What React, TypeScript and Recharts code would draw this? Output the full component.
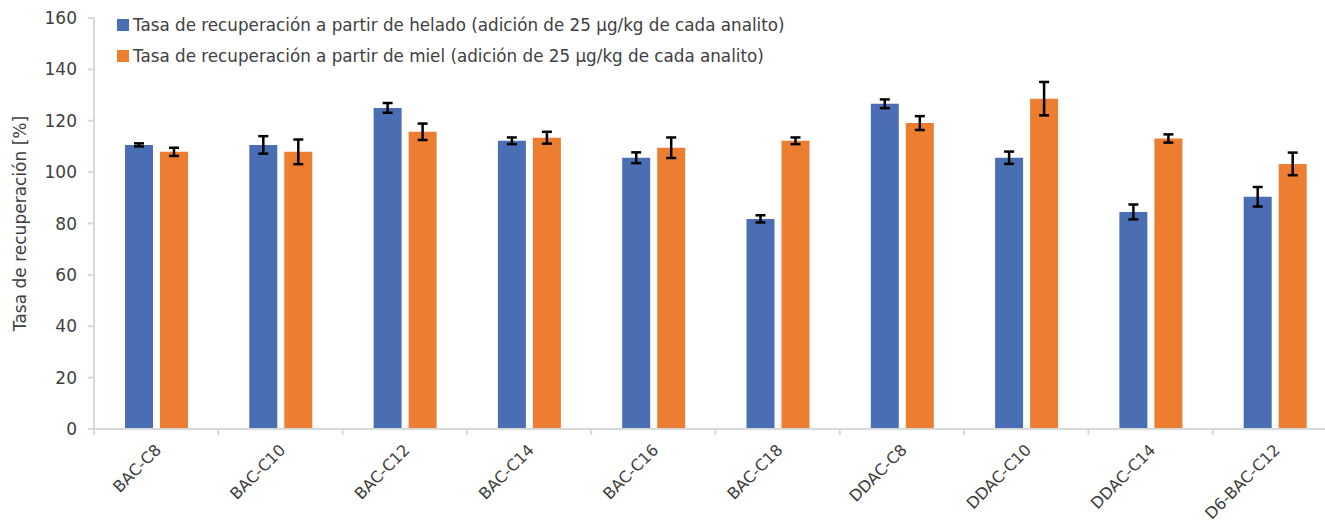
import { BarChart, Bar, XAxis, YAxis, ErrorBar, Legend } from 'recharts';

const categories = [
  'BAC-C8',
  'BAC-C10',
  'BAC-C12',
  'BAC-C14',
  'BAC-C16',
  'BAC-C18',
  'DDAC-C8',
  'DDAC-C10',
  'DDAC-C14',
  'D6-BAC-C12',
];
const heladoValues = [110.6, 110.6, 125.0, 112.2, 105.6, 81.8, 126.6, 105.6, 84.5, 90.4];
const heladoErrors = [0.6, 3.4, 1.9, 1.3, 2.1, 1.4, 1.7, 2.4, 2.9, 3.8];
const mielValues = [107.9, 107.9, 115.7, 113.4, 109.5, 112.2, 119.1, 128.6, 113.1, 103.2];
const mielErrors = [1.6, 4.8, 3.2, 2.3, 4.0, 1.3, 2.7, 6.5, 1.6, 4.4];
const yTicks = [0, 20, 40, 60, 80, 100, 120, 140, 160];

const seriesNames = [
  'Tasa de recuperación a partir de helado (adición de 25 µg/kg de cada analito)',
  'Tasa de recuperación a partir de miel (adición de 25 µg/kg de cada analito)',
];

const BLUE = '#4a6eb4';
const ORANGE = '#ed7d31';
const AXIS = '#d9d9d9';
const TEXT = '#404040';
const FONT = '"DejaVu Sans", sans-serif';

const WIDTH = 1342;
const HEIGHT = 524;
const MARGIN = { top: 18, right: 5, left: 0, bottom: 0 };
const Y_AXIS_W = 94;
const X_AXIS_H = 95;
const BAND = (WIDTH - MARGIN.left - MARGIN.right - Y_AXIS_W) / categories.length;

const data = categories.map((name, i) => ({
  name,
  helado: heladoValues[i],
  heladoErr: heladoErrors[i],
  miel: mielValues[i],
  mielErr: mielErrors[i],
}));

function CategoryTick(props: any) {
  const { x, y, payload, index } = props;
  const left = x - BAND / 2;
  const right = x + BAND / 2;
  const tx = x + 6;
  const ty = y + 22;
  return (
    <g>
      <line x1={left} x2={left} y1={y} y2={y + 6} stroke={AXIS} strokeWidth={2} />
      {index === categories.length - 1 && (
        <line x1={right} x2={right} y1={y} y2={y + 6} stroke={AXIS} strokeWidth={2} />
      )}
      <text
        x={tx}
        y={ty}
        textAnchor="end"
        transform={`rotate(-45, ${tx}, ${ty})`}
        fontSize={16}
        fontFamily={FONT}
        fill={TEXT}
      >
        {payload.value}
      </text>
    </g>
  );
}

function LegendBox() {
  const colors = [BLUE, ORANGE];
  return (
    <div style={{ fontFamily: FONT, fontSize: 16.75, color: TEXT }}>
      {seriesNames.map((s, i) => (
        <div key={s} style={{ height: 31, display: 'flex', alignItems: 'center' }}>
          <span
            style={{
              display: 'inline-block',
              width: 12,
              height: 12,
              background: colors[i],
              marginRight: 4,
            }}
          />
          <span>{s}</span>
        </div>
      ))}
    </div>
  );
}

export default function App() {
  return (
    <div
      style={{
        position: 'fixed',
        left: 0,
        top: 0,
        width: 1325,
        height: 524,
        overflow: 'hidden',
        background: '#fff',
      }}
    >
      <BarChart
        width={WIDTH}
        height={HEIGHT}
        data={data}
        margin={MARGIN}
        barSize={28}
        barGap={7}
      >
        <XAxis
          dataKey="name"
          height={X_AXIS_H}
          interval={0}
          tickSize={0}
          tickMargin={0}
          tickLine={false}
          axisLine={{ stroke: AXIS, strokeWidth: 2 }}
          tick={<CategoryTick />}
        />
        <YAxis
          width={Y_AXIS_W}
          domain={[0, 160]}
          ticks={yTicks}
          interval={0}
          tickSize={6}
          tickMargin={11}
          axisLine={{ stroke: AXIS, strokeWidth: 2 }}
          tickLine={{ stroke: AXIS, strokeWidth: 2 }}
          tick={{ fontSize: 17, fontFamily: FONT, fill: TEXT }}
          label={{
            content: (p: any) => {
              const vb = p.viewBox;
              const cx = 26;
              const cy = vb.y + vb.height / 2;
              return (
                <text
                  x={cx}
                  y={cy}
                  textAnchor="middle"
                  transform={`rotate(-90, ${cx}, ${cy})`}
                  fontSize={17}
                  fontFamily={FONT}
                  fill={TEXT}
                >
                  Tasa de recuperación [%]
                </text>
              );
            },
          }}
        />
        <Legend
          layout="vertical"
          align="center"
          verticalAlign="middle"
          wrapperStyle={{ top: 9, left: 117, width: 'auto' }}
          content={() => <LegendBox />}
        />
        <Bar dataKey="helado" fill={BLUE} isAnimationActive={false}>
          <ErrorBar dataKey="heladoErr" width={5} stroke="#000" strokeWidth={2.5} />
        </Bar>
        <Bar dataKey="miel" fill={ORANGE} isAnimationActive={false}>
          <ErrorBar dataKey="mielErr" width={5} stroke="#000" strokeWidth={2.5} />
        </Bar>
      </BarChart>
    </div>
  );
}
